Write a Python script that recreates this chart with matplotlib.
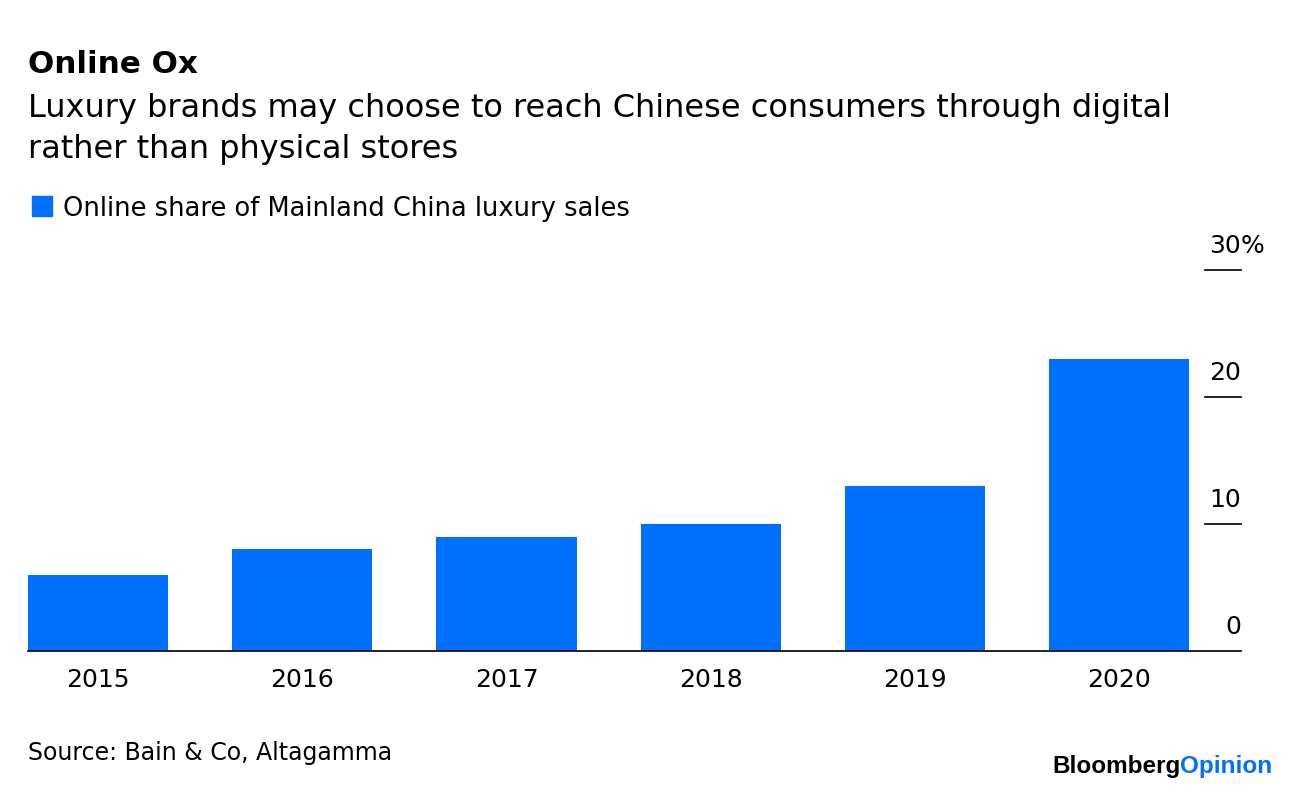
import matplotlib.pyplot as plt
import numpy as np

plt.rcParams['font.family'] = ['DejaVu Sans']

# data
years = ['2015', '2016', '2017', '2018', '2019', '2020']
online_share = [6, 8, 9, 10, 13, 23]
yticks = [0, 10, 20, 30]
ytick_labels = ['0', '10', '20', '30']

blue = '#0070FF'
W, H = 1296, 790

fig = plt.figure(figsize=(W / 100, H / 100), dpi=100)
fig.patch.set_facecolor('white')

# axes placed in pixel terms
left, right, bottom, top = 28, 1241, 651, 270
ax = fig.add_axes([left / W, 1 - bottom / H, (right - left) / W, (bottom - top) / H])

x = np.arange(len(years))
ax.bar(x, online_share, width=0.686, color=blue, zorder=2)
ax.set_xlim(-0.343, 5.597)
ax.set_ylim(0, 30)

for s in ['top', 'right', 'left']:
    ax.spines[s].set_visible(False)
ax.spines['bottom'].set_color('black')
ax.spines['bottom'].set_linewidth(1.2)
ax.spines['bottom'].set_zorder(3)
ax.set_yticks([])
ax.set_xticks(x)
ax.set_xticklabels(years, fontsize=18)
ax.tick_params(axis='x', length=0, pad=12)

# y ticks drawn as short dashes on the right with labels above
trans = ax.get_yaxis_transform()
for v in yticks[1:]:
    ax.plot([0.970, 1.0], [v, v], color='black', lw=1.2, transform=trans, clip_on=False)
for v, lab in zip(yticks, ytick_labels):
    ax.text(1.0, v + 1.35, lab, transform=trans, ha='right', va='baseline', fontsize=18)
ax.text(1.0, 30 + 1.35, '%', transform=trans, ha='left', va='baseline', fontsize=18)

# titles
fig.text(28 / W, 1 - 73 / H, 'Online Ox', fontsize=22.3, fontweight='bold', ha='left', va='baseline')
fig.text(28 / W, 1 - 117 / H, 'Luxury brands may choose to reach Chinese consumers through digital',
         fontsize=23, ha='left', va='baseline')
fig.text(28 / W, 1 - 158 / H, 'rather than physical stores', fontsize=23, ha='left', va='baseline')

# legend
fig.patches.append(plt.Rectangle((32 / W, 1 - 216 / H), 20 / W, 20 / H, transform=fig.transFigure,
                                 color=blue, figure=fig))
fig.text(63 / W, 1 - 216 / H, 'Online share of Mainland China luxury sales', fontsize=18.5,
         ha='left', va='baseline')

# source and logo
fig.text(28 / W, 1 - 760 / H, 'Source: Bain & Co, Altagamma', fontsize=17, ha='left', va='baseline')
t1 = fig.text(1052 / W, 1 - 773 / H, 'Bloomberg', fontsize=17.5, fontweight='bold',
              family='Liberation Sans', ha='left', va='baseline')
ax.annotate('Opinion', xy=(1, 0), xycoords=t1, fontsize=17.5, fontweight='bold',
            family='Liberation Sans', color=blue, ha='left', va='bottom', annotation_clip=False)

fig.savefig('out.png', dpi=100, facecolor='white')
